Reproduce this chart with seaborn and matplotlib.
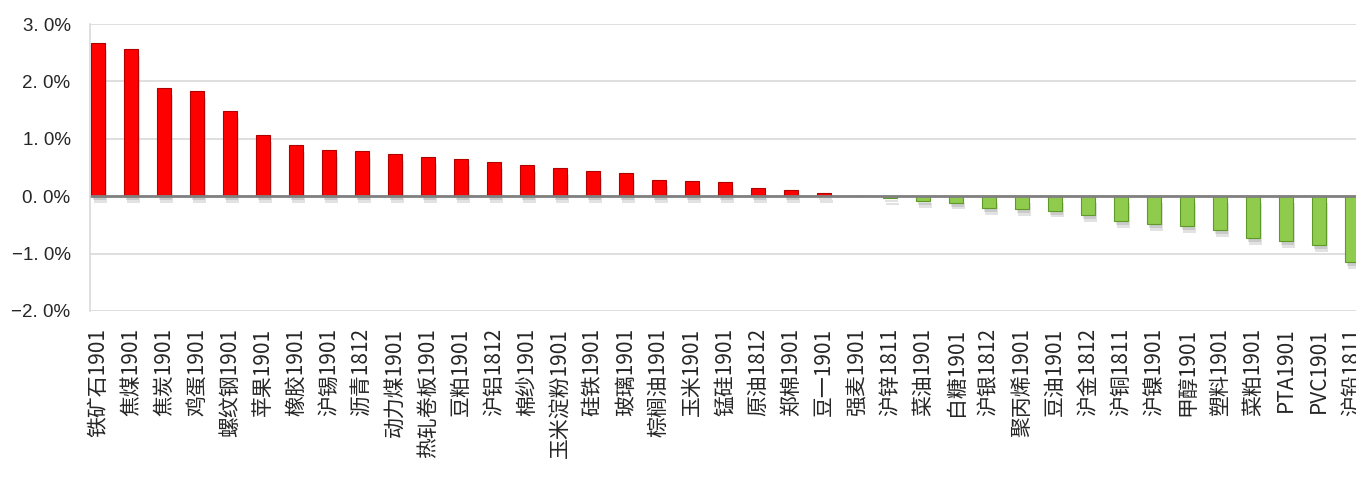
import matplotlib
matplotlib.use('Agg')
import matplotlib.pyplot as plt
import matplotlib.patheffects as pe
from matplotlib.ticker import FuncFormatter, MultipleLocator
import seaborn as sns
import pandas as pd

# 品种 & 涨跌幅(%)
contracts = ['铁矿石1901', '焦煤1901', '焦炭1901', '鸡蛋1901', '螺纹钢1901', '苹果1901',
             '橡胶1901', '沪锡1901', '沥青1812', '动力煤1901', '热轧卷板1901', '豆粕1901',
             '沪铝1812', '棉纱1901', '玉米淀粉1901', '硅铁1901', '玻璃1901', '棕榈油1901',
             '玉米1901', '锰硅1901', '原油1812', '郑棉1901', '豆一1901', '强麦1901',
             '沪锌1811', '菜油1901', '白糖1901', '沪银1812', '聚丙烯1901', '豆油1901',
             '沪金1812', '沪铜1811', '沪镍1901', '甲醇1901', '塑料1901', '菜粕1901',
             'PTA1901', 'PVC1901', '沪铅1811']
changes = [2.67, 2.57, 1.89, 1.84, 1.49, 1.07,
           0.89, 0.81, 0.78, 0.73, 0.68, 0.65,
           0.60, 0.55, 0.49, 0.44, 0.41, 0.29,
           0.26, 0.24, 0.15, 0.10, 0.06, 0.00,
           -0.03, -0.08, -0.11, -0.20, -0.22, -0.25,
           -0.33, -0.43, -0.48, -0.52, -0.59, -0.73,
           -0.78, -0.85, -1.14]

df = pd.DataFrame({'name': contracts, 'chg': changes})
df['dir'] = ['up' if v >= 0 else 'down' for v in df['chg']]

sns.set_style('white')
plt.rcParams['font.family'] = ['Noto Sans CJK SC', 'DejaVu Sans']
plt.rcParams['axes.unicode_minus'] = True

fig = plt.figure(figsize=(13.56, 4.96), dpi=100)
ax = fig.add_axes([0.0664, 0.373, 1 - 0.0664, 0.9516 - 0.373])

sns.barplot(data=df, x='name', y='chg', hue='dir', dodge=False, width=0.4,
            palette={'up': '#FF0000', 'down': '#8FCB4C'}, legend=False,
            saturation=1, ax=ax)

# 柱子边框 + 阴影
for p in ax.patches:
    up = p.get_height() >= 0
    p.set_edgecolor('#B00000' if up else '#5E9A2A')
    p.set_linewidth(0.8)
    p.set_path_effects([pe.SimplePatchShadow(offset=(2, -5), shadow_rgbFace='#606060', alpha=0.18),
                        pe.SimplePatchShadow(offset=(1, -3), shadow_rgbFace='#606060', alpha=0.18),
                        pe.Normal()])

ax.set_ylim(-2.0, 3.0)
ax.set_xlim(-0.24, 38.12)
ax.yaxis.set_major_locator(MultipleLocator(1.0))
ax.yaxis.set_major_formatter(FuncFormatter(lambda v, _: f'{v:.1f}%'.replace('.', '. ').replace('-', '\u2212')))
ax.grid(axis='y', color='#D9D9D9', linewidth=1.2)
ax.set_axisbelow(True)
ax.axhline(0, color='#808080', linewidth=2, zorder=1.5)

for s in ['top', 'right', 'bottom']:
    ax.spines[s].set_visible(False)
ax.spines['left'].set_color('#D9D9D9')
ax.spines['left'].set_linewidth(1.2)

ax.set_xlabel('')
ax.set_ylabel('')
ax.tick_params(axis='y', length=0, pad=14, labelsize=13.5, labelcolor='#262626')
for t in ax.get_yticklabels():
    t.set_family(['Liberation Sans', 'DejaVu Sans'])
ax.tick_params(axis='x', length=0, pad=12, labelsize=15, labelrotation=90)
for t in ax.get_xticklabels():
    t.set_verticalalignment('top')

plt.savefig('out.png', dpi=100)
plt.close()
